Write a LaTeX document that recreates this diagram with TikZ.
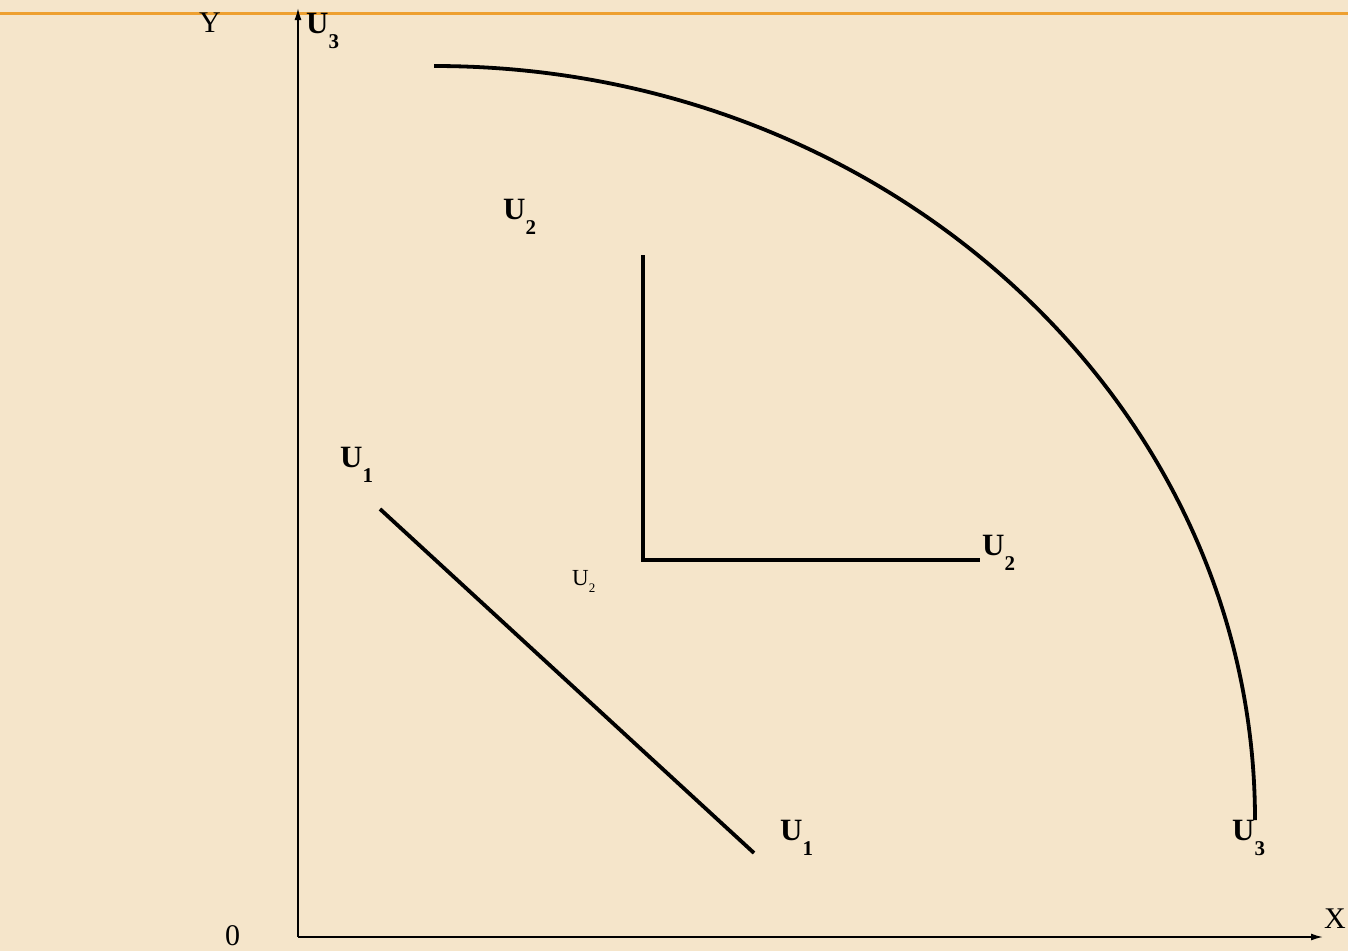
\documentclass[tikz,border=0pt]{standalone}
\usepackage{fontspec}
\setmainfont{Liberation Serif}
\usetikzlibrary{arrows.meta}
\definecolor{paper}{RGB}{245,229,202}
\definecolor{rule}{RGB}{238,160,48}
\newcommand{\bU}[1]{\fontsize{31}{36}\selectfont\bfseries U\raisebox{-15pt}{\fontsize{21}{25}\selectfont #1}}
\newcommand{\sU}[1]{\fontsize{23}{27}\selectfont U\raisebox{-7pt}{\fontsize{13}{15}\selectfont #1}}
\begin{document}
\begin{tikzpicture}[x=1pt,y=-1pt,
  lab/.style={inner sep=0pt,anchor=base west},
  plain/.style={inner sep=0pt,anchor=base west,font=\fontsize{30}{36}\selectfont},
  axis/.style={line width=1.6pt,-{Latex[length=12pt,width=7pt]}},
  curve/.style={line width=3.8pt}]
\fill[paper] (0,0) rectangle (1348,951);
\useasboundingbox (0,0) rectangle (1348,951);
% top orange rule
\coordinate (rl) at (0,13);
\coordinate (rr) at (1348,13);
\draw[rule,line width=3pt] (rl) -- (rr);
% axes
\coordinate (O) at (298,937);
\coordinate (ytop) at (298,8);
\coordinate (xend) at (1323,937);
\draw[axis] (O) -- (ytop);
\draw[axis] (O) -- (xend);
% curves
\coordinate (a1) at (434,66);
\coordinate (a2) at (1255,820);
\draw[curve] (a1) arc[start angle=90,end angle=0,x radius=821,y radius=-754];
\coordinate (l1) at (643,255);
\coordinate (l2) at (643,560);
\coordinate (l3) at (980,560);
\draw[curve] (l1) -- (l2) -- (l3);
\coordinate (d1) at (380,509);
\coordinate (d2) at (754,853);
\draw[curve] (d1) -- (d2);
% labels
\node[plain] (ylab) at (199,32) {Y};
\node[plain] (xlab) at (1324,928) {X};
\node[plain] (zero) at (225,945) {0};
\node[lab] (u3t) at (306,33) {\bU{3}};
\node[lab] (u2t) at (503,219) {\bU{2}};
\node[lab] (u1l) at (340,467) {\bU{1}};
\node[lab] (u2s) at (572,585) {\sU{2}};
\node[lab] (u2r) at (982,555) {\bU{2}};
\node[lab] (u1b) at (780,840) {\bU{1}};
\node[lab] (u3b) at (1232,840) {\bU{3}};
\end{tikzpicture}
\end{document}
